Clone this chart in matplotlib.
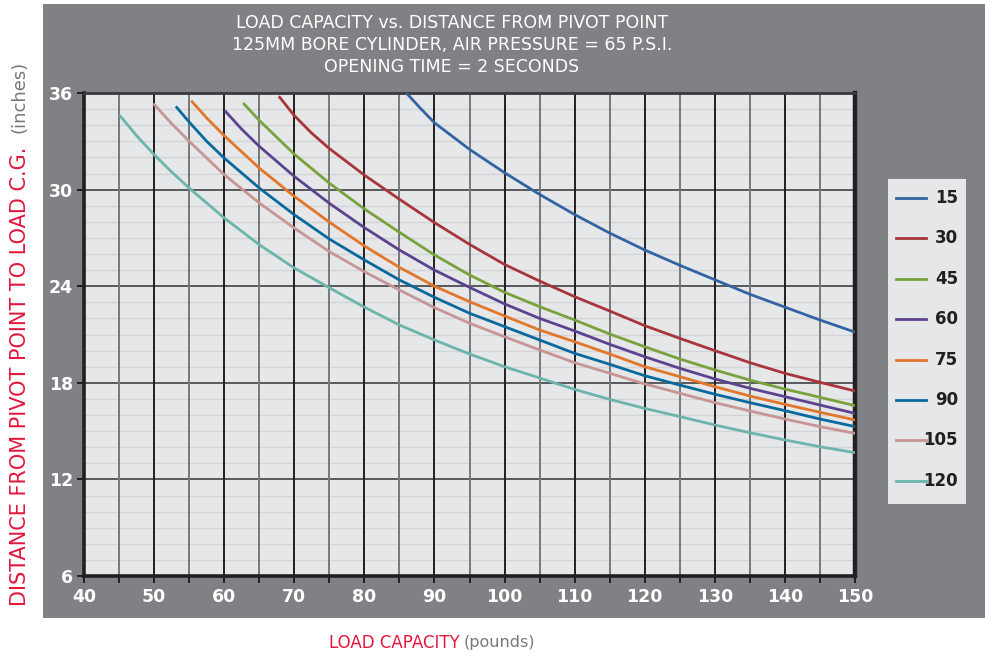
"""Load capacity vs. distance from pivot point, 125mm bore cylinder at 65 psi."""

import matplotlib

matplotlib.use("Agg")
import matplotlib.pyplot as plt  # noqa: E402
from matplotlib.lines import Line2D  # noqa: E402
from matplotlib.patches import Rectangle  # noqa: E402

# load capacity (lb) -> distance to load C.G. (in), one series per opening angle
ANGLES = ["15", "30", "45", "60", "75", "90", "105", "120"]
COLORS = ["#3263a2", "#a8353a", "#7aa23c", "#5c4390", "#e2762a", "#08699e", "#c79596", "#6cb4ad"]

X_15 = [86.0, 88, 90, 95, 100, 105, 110, 115, 120, 125, 130, 135, 140, 145, 150]
Y_15 = [36.0, 35.05, 34.15, 32.5, 31.05, 29.7, 28.45, 27.3, 26.25, 25.3, 24.4, 23.5, 22.7, 21.9,
        21.15]

X_30 = [67.8, 70, 72.5, 75, 80, 85, 90, 95, 100, 105, 110, 115, 120, 125, 130, 135, 140, 145, 150]
Y_30 = [35.8, 34.6, 33.5, 32.55, 30.9, 29.4, 27.95, 26.6, 25.35, 24.32, 23.35, 22.46, 21.55, 20.76,
        20.0, 19.25, 18.59, 18.03, 17.49]

X_45 = [62.7, 65, 70, 75, 80, 85, 90, 95, 100, 105, 110, 115, 120, 125, 130, 135, 140, 145, 150]
Y_45 = [35.38, 34.3, 32.2, 30.4, 28.8, 27.35, 25.94, 24.7, 23.62, 22.73, 21.9, 21.03, 20.24,
        19.48, 18.8, 18.17, 17.61, 17.1, 16.58]

X_60 = [60.1, 62.5, 65, 70, 75, 80, 85, 90, 95, 100, 105, 110, 115, 120, 125, 130, 135, 140, 145,
        150]
Y_60 = [34.9, 33.75, 32.69, 30.82, 29.15, 27.64, 26.25, 25.0, 23.93, 22.9, 22.0, 21.22, 20.39,
        19.62, 18.9, 18.24, 17.66, 17.14, 16.62, 16.1]

X_75 = [55.3, 57.5, 60, 65, 70, 75, 80, 85, 90, 95, 100, 105, 110, 115, 120, 125, 130, 135, 140,
        145, 150]
Y_75 = [35.52, 34.45, 33.35, 31.34, 29.58, 27.98, 26.5, 25.17, 24.0, 23.04, 22.15, 21.28, 20.55,
        19.79, 19.0, 18.38, 17.76, 17.18, 16.66, 16.17, 15.69]

X_90 = [53.1, 55, 57.5, 60, 65, 70, 75, 80, 85, 90, 95, 100, 105, 110, 115, 120, 125, 130, 135,
        140, 145, 150]
Y_90 = [35.17, 34.2, 33.0, 31.96, 30.1, 28.44, 26.93, 25.63, 24.39, 23.31, 22.32, 21.49, 20.66,
        19.83, 19.15, 18.44, 17.86, 17.29, 16.77, 16.27, 15.75, 15.28]

X_105 = [49.9, 52.5, 55, 60, 65, 70, 75, 80, 85, 90, 95, 100, 105, 110, 115, 120, 125, 130, 135,
         140, 145, 150]
Y_105 = [35.34, 34.1, 33.0, 30.93, 29.17, 27.61, 26.15, 24.9, 23.76, 22.67, 21.7, 20.86, 20.04,
         19.25, 18.59, 17.93, 17.35, 16.77, 16.25, 15.75, 15.28, 14.86]

X_120 = [45.1, 47.5, 50, 52.5, 55, 60, 65, 70, 75, 80, 85, 90, 95, 100, 105, 110, 115, 120, 125,
         130, 135, 140, 145, 150]
Y_120 = [34.61, 33.35, 32.17, 31.1, 30.1, 28.24, 26.58, 25.13, 23.9, 22.7, 21.59, 20.66, 19.79,
         19.0, 18.3, 17.59, 16.97, 16.41, 15.9, 15.38, 14.9, 14.45, 14.03, 13.66]

SERIES_X = [X_15, X_30, X_45, X_60, X_75, X_90, X_105, X_120]
SERIES_Y = [Y_15, Y_30, Y_45, Y_60, Y_75, Y_90, Y_105, Y_120]

X_TICKS = list(range(40, 151, 10))
Y_TICKS = list(range(6, 37, 6))

TITLE = ("LOAD CAPACITY vs. DISTANCE FROM PIVOT POINT\n"
         "125MM BORE CYLINDER, AIR PRESSURE = 65 P.S.I.\n"
         "OPENING TIME = 2 SECONDS")

PANEL = "#808184"
PLOT_BG = "#e6e7e8"
RED = "#e3173e"
GREY_TXT = "#77787b"
INK = "#231f20"

W, H = 985, 657


def fx(px):
    return px / W


def fy(py):
    return 1 - py / H


fig = plt.figure(figsize=(9.85, 6.57), dpi=100)
fig.patch.set_facecolor("white")

# grey panel behind everything except the axis-title strips
fig.patches.append(Rectangle((fx(43), fy(618)), 1 - fx(43), fy(4) - fy(618),
                             transform=fig.transFigure, facecolor=PANEL, edgecolor="none",
                             zorder=0))

ax = fig.add_axes([fx(84), fy(576), fx(855) - fx(84), fy(93) - fy(576)])
ax.set_zorder(5)
ax.set_facecolor(PLOT_BG)
ax.set_xlim(40, 150)
ax.set_ylim(6, 36)

# grid: light every inch, darker every 6 in; verticals alternate at 5 / 10 lb
for y in range(7, 36):
    if y % 6:
        ax.axhline(y, color="#d3d4d6", lw=1.0, zorder=1)
for y in Y_TICKS[1:-1]:
    ax.axhline(y, color="#58595b", lw=1.4, zorder=2)
for x in range(45, 150, 5):
    ax.axvline(x, color=INK if x % 10 == 0 else "#77787b", lw=1.4, zorder=2)

lines = []
for xs, ys, c in zip(SERIES_X, SERIES_Y, COLORS):
    (ln,) = ax.plot(xs, ys, color=c, lw=2.0, zorder=3, solid_capstyle="butt",
                    solid_joinstyle="round")
    lines.append(ln)

for side in ["left", "bottom"]:
    ax.spines[side].set_linewidth(2.6)
    ax.spines[side].set_color(INK)
ax.spines["right"].set_linewidth(3.2)
ax.spines["right"].set_color(INK)
ax.spines["top"].set_linewidth(2.0)
ax.spines["top"].set_color("#3a3a3c")

ax.set_xticks(X_TICKS)
ax.set_xticks(range(45, 150, 10), minor=True)
ax.set_yticks(Y_TICKS)
ax.set_yticks(range(6, 37), minor=True)
ax.tick_params(axis="both", which="both", color=INK, direction="out")
ax.tick_params(axis="x", which="major", length=5, width=1.4, pad=4)
ax.tick_params(axis="x", which="minor", length=5, width=1.4)
ax.tick_params(axis="y", which="major", length=5, width=1.4, pad=3)
ax.tick_params(axis="y", which="minor", length=2.5, width=0.8, color="#6d6e71")
for lab in ax.get_xticklabels() + ax.get_yticklabels():
    lab.set_color("white")
    lab.set_fontweight("bold")
    lab.set_fontsize(12.5)

fig.text(fx(452), fy(45), TITLE, color="white", fontsize=12.5, ha="center", va="center",
         linespacing=1.3)

# legend panel
fig.patches.append(Rectangle((fx(888), fy(504)), fx(966) - fx(888), fy(179) - fy(504),
                             transform=fig.transFigure, facecolor=PLOT_BG, edgecolor="none",
                             zorder=1))
for i, (ln, name) in enumerate(zip(lines, ANGLES)):
    ypx = 198 + i * 40.4
    fig.lines.append(Line2D([fx(896), fx(926)], [fy(ypx), fy(ypx)], transform=fig.transFigure,
                            color=ln.get_color(), lw=2.0, zorder=2))
    fig.text(fx(958), fy(ypx), name, color=INK, fontsize=12, fontweight="bold",
             ha="right", va="center", zorder=3)

# axis titles in two colours
fig.text(fx(20), fy(606), "DISTANCE FROM PIVOT POINT TO LOAD C.G.", color=RED, fontsize=15,
         rotation=90, rotation_mode="anchor", ha="left", va="center")
fig.text(fx(20), fy(133), "(inches)", color=GREY_TXT, fontsize=13,
         rotation=90, rotation_mode="anchor", ha="left", va="center")
fig.text(fx(460), fy(643), "LOAD CAPACITY", color=RED, fontsize=12, ha="right", va="center")
fig.text(fx(464), fy(643), "(pounds)", color=GREY_TXT, fontsize=11.5, ha="left", va="center")

fig.savefig("out.png", dpi=100, facecolor=fig.get_facecolor())
